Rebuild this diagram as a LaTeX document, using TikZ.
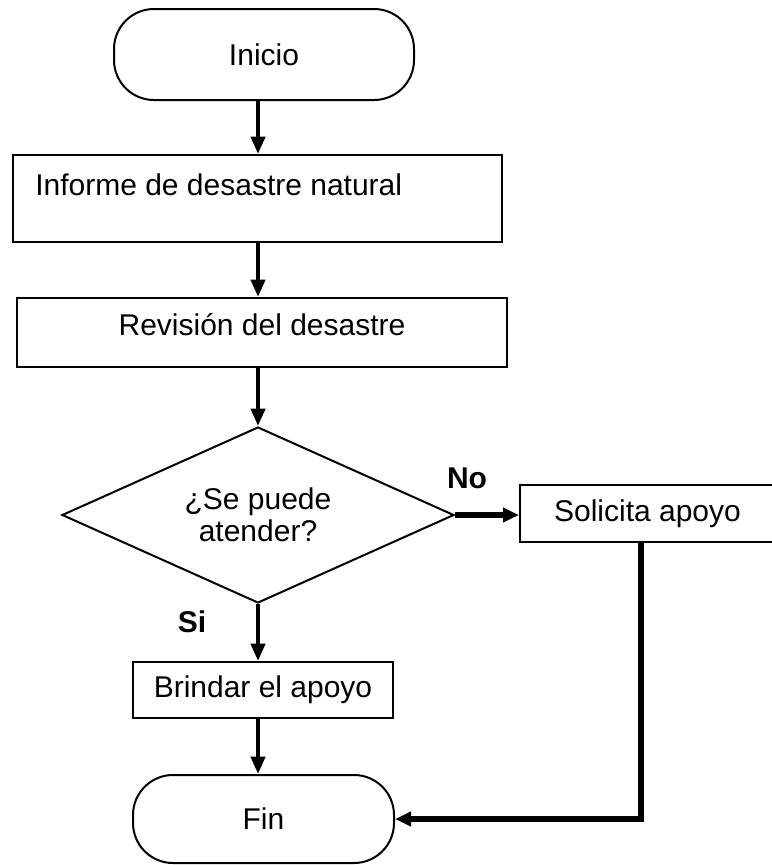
\documentclass[tikz,border=0pt]{standalone}
\usepackage{fontspec}
\setmainfont{Liberation Sans}
\usetikzlibrary{shapes.geometric,arrows.meta}
\begin{document}
\begin{tikzpicture}[x=0.75pt,y=-0.75pt,
  every node/.style={font=\fontsize{22.5}{24}\selectfont},
  box/.style={draw, line width=1.5pt, inner sep=0pt, rectangle},
  term/.style={box, rounded corners=30pt},
  flow/.style={line width=3pt, -{Triangle[length=13pt,width=10.5pt]}},
  bigflow/.style={line width=3.8pt, -{Triangle[length=12pt,width=10.5pt]}},
  lab/.style={font=\fontsize{22.5}{24}\selectfont\bfseries, inner sep=0pt}
]
\useasboundingbox (0,0) rectangle (772,865);
\fill[white] (0,0) rectangle (772,865);

% nodes
\node[term, minimum width=225pt, minimum height=68.25pt] (inicio) at (264,54.5) {Inicio};
\node[box, minimum width=366.75pt, minimum height=65.25pt] (informe) at (257.5,198.5) {};
\node[anchor=base west, inner sep=0pt] (informetxt) at (35,195) {Informe de desastre natural};
\node[box, minimum width=367.5pt, minimum height=51.75pt] (revision) at (262,332.5) {};
\node[anchor=base, inner sep=0pt] (revisiontxt) at (262,335) {Revisión del desastre};
\node[draw, diamond, aspect=2.22, line width=1.5pt, inner sep=0pt,
      minimum width=294pt, minimum height=132pt, align=center] (decision) at (258,515) {¿Se puede\\atender?};
\node[box, minimum width=191.25pt, minimum height=42.75pt] (solicita) at (647.5,513.5) {Solicita apoyo};
\node[box, minimum width=195pt, minimum height=42pt] (brindar) at (263,690) {Brindar el apoyo};
\node[term, minimum width=195.75pt, minimum height=66pt] (fin) at (263.5,819) {Fin};

\node[lab] (no) at (467,478) {No};
\node[lab] (si) at (192,622) {Si};

\coordinate (ret) at (641,0);

% connectors
\draw[flow] (inicio.south -| decision.north) -- (informe.north -| decision.north);
\draw[flow] (informe.south -| decision.north) -- (revision.north -| decision.north);
\draw[flow] (revision.south -| decision.north) -- (decision.north);
\draw[bigflow] (decision.east) -- (decision.east -| solicita.west);
\draw[flow] (decision.south) -- (decision.south |- brindar.north);
\draw[flow] (brindar.south -| decision.south) -- (fin.north -| decision.south);
\draw[bigflow] (solicita.south -| ret) |- (fin.east);
\end{tikzpicture}
\end{document}
